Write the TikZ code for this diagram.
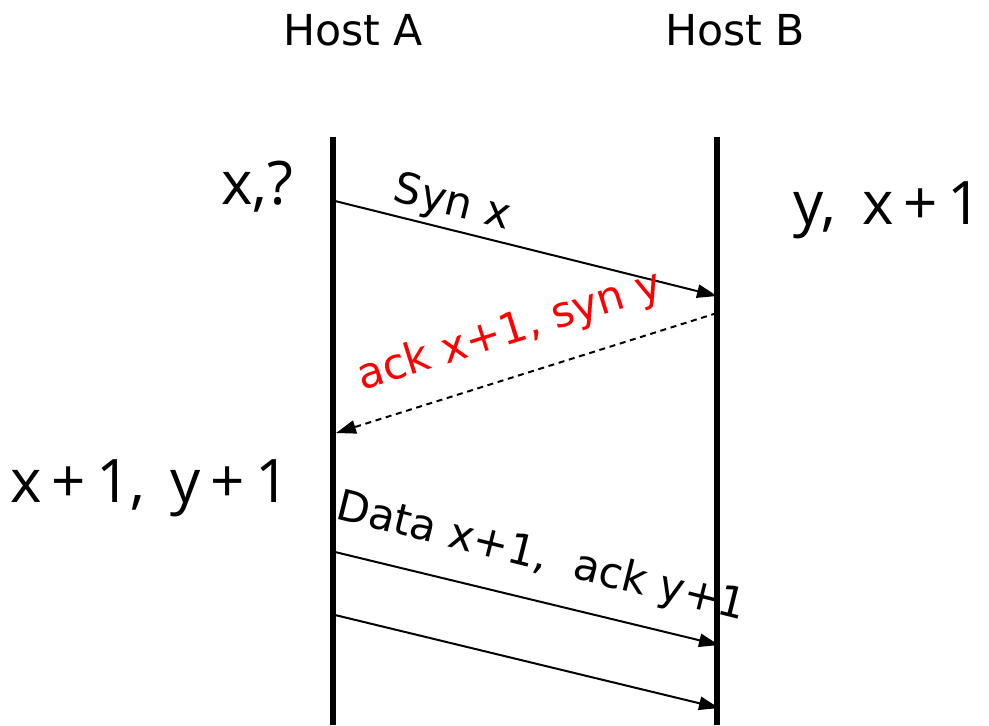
\documentclass[tikz,border=0pt]{standalone}
\usepackage{fontspec}
\setmainfont{DejaVu Sans}
\newfontfamily\plainfont{Open Sans}
\usetikzlibrary{arrows.meta}
\begin{document}
\begin{tikzpicture}[x=0.75pt,y=-0.75pt,
  lifeline/.style={line width=4pt},
  msg/.style={line width=1.5pt,-{Triangle[length=15pt,width=10pt]}},
  lbl/.style={inner sep=0pt,font=\fontsize{32}{36}\selectfont},
  val/.style={inner sep=0pt,font=\plainfont\fontsize{45}{48}\selectfont}]
\useasboundingbox (0,0) rectangle (989,725);
% lifelines
\coordinate (at) at (333,137);
\coordinate (ab) at (333,725);
\coordinate (bt) at (717,137);
\coordinate (bb) at (717,725);
\draw[lifeline] (at) -- (ab);
\draw[lifeline] (bt) -- (bb);
% headers
\node[lbl] (hA) at (353,30) {Host A};
\node[lbl] (hB) at (735,30) {Host B};
% state labels
\node[val] (s1) at (257,187) {x,?};
\node[val] (s2) at (888,210) {y,\ \,x\,+\,1};
\node[val] (s3) at (150,488) {x\,+\,1,\ \,y\,+\,1};
% messages
\coordinate (m1s) at (335,201);
\coordinate (m1e) at (717,296);
\coordinate (m2s) at (717,313);
\coordinate (m2e) at (336,433);
\coordinate (m3s) at (335,552);
\coordinate (m3e) at (719,645);
\coordinate (m4s) at (335,615);
\coordinate (m4e) at (719,708);
\draw[msg] (m1s) -- (m1e);
\draw[msg,dash pattern=on 4.5pt off 3.5pt] (m2s) -- (m2e);
\draw[msg] (m3s) -- (m3e);
\draw[msg] (m4s) -- (m4e);
% message labels
\node[lbl,rotate=-14] (t1) at (452,204) {Syn x};
\node[lbl,rotate=17.5,text=red] (t2) at (510,332) {ack x+1, syn y};
\node[lbl,rotate=-14] (t3) at (541,558) {Data x+1,\ \ ack y+1};
\end{tikzpicture}
\end{document}
